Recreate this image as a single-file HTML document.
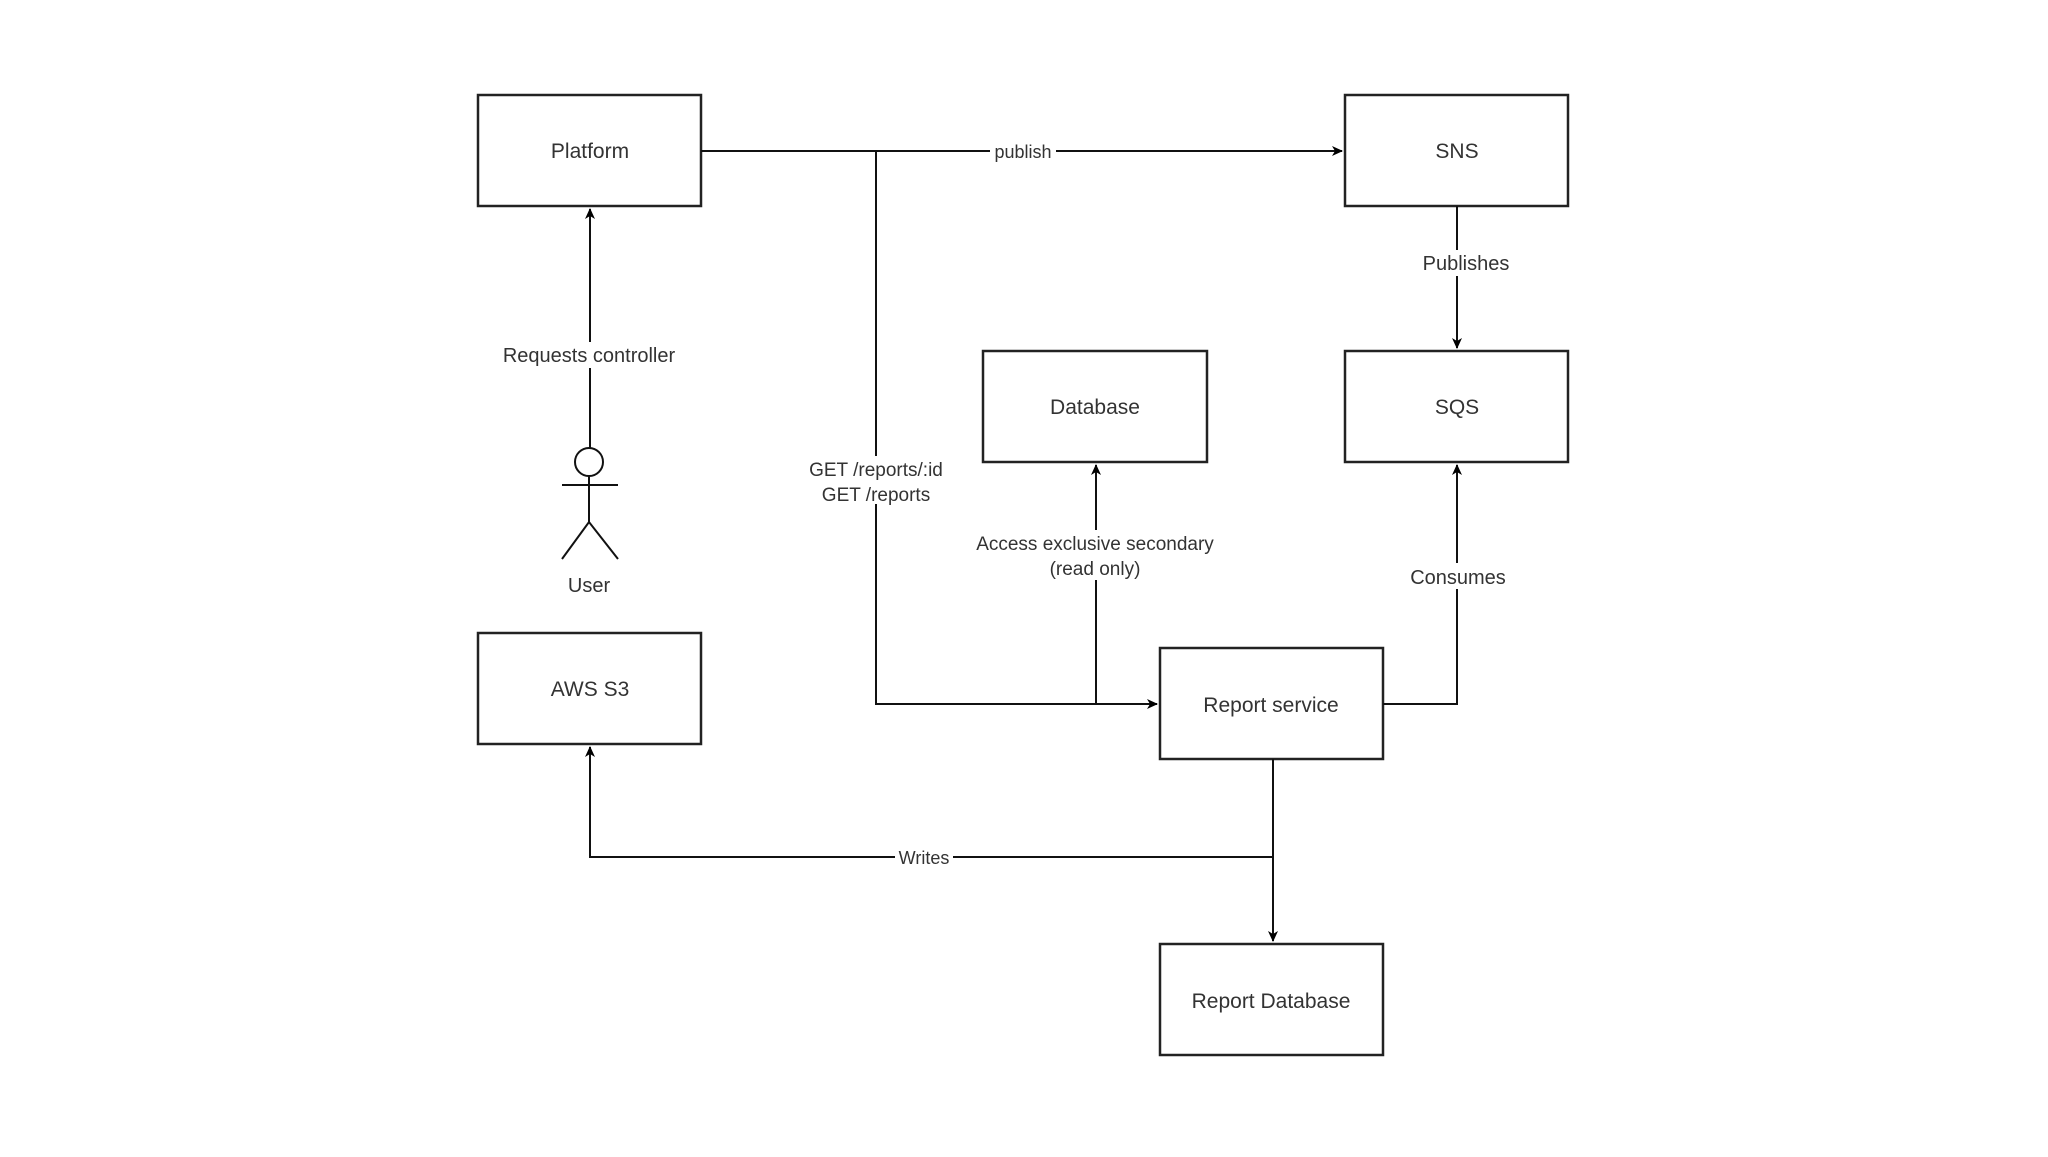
<!DOCTYPE html>
<html><head><style>body{margin:0;background:#fff}</style></head><body>
<svg width="2048" height="1152" xmlns="http://www.w3.org/2000/svg" font-family="Liberation Sans, sans-serif" fill="none">
<defs><marker id="a" markerWidth="12" markerHeight="12" refX="10" refY="6" orient="auto" markerUnits="userSpaceOnUse"><path d="M0,1 L11,6 L0,11 L3,6 Z" fill="#000"/></marker></defs>
<g stroke="#222" stroke-width="2.5" fill="#fff">
<rect x="478" y="95" width="223" height="111"/>
<rect x="1345" y="95" width="223" height="111"/>
<rect x="983" y="351" width="224" height="111"/>
<rect x="1345" y="351" width="223" height="111"/>
<rect x="478" y="633" width="223" height="111"/>
<rect x="1160" y="648" width="223" height="111"/>
<rect x="1160" y="944" width="223" height="111"/>
</g>
<g stroke="#111" stroke-width="2">
<path d="M701,151 H1342" marker-end="url(#a)"/>
<path d="M876,151 V704 H1157" marker-end="url(#a)"/>
<path d="M1096,704 V465" marker-end="url(#a)"/>
<path d="M1383,704 H1457 V465" marker-end="url(#a)"/>
<path d="M1457,206 V348" marker-end="url(#a)"/>
<path d="M590,448 V209" marker-end="url(#a)"/>
<path d="M1273,759 V941" marker-end="url(#a)"/>
<path d="M1273,857 H590 V747" marker-end="url(#a)"/>
<circle cx="589" cy="462" r="14" fill="#fff"/>
<path d="M589,476 V522 M562,485 H618 M562,559 L589,522 L618,559"/>
</g>
<g fill="#333" font-size="21" text-anchor="middle">
<text x="590" y="158">Platform</text>
<text x="1457" y="158">SNS</text>
<text x="1095" y="414">Database</text>
<text x="1457" y="414">SQS</text>
<text x="590" y="696">AWS S3</text>
<text x="1271" y="712">Report service</text>
<text x="1271" y="1008">Report Database</text>
</g>
<g fill="#333" font-size="20" text-anchor="middle">
<rect x="990" y="140" width="66" height="22" fill="#fff"/>
<text x="1023" y="158" font-size="18">publish</text>
<rect x="1415" y="250" width="90" height="26" fill="#fff"/>
<text x="1466" y="270">Publishes</text>
<rect x="492" y="342" width="196" height="26" fill="#fff"/>
<text x="589" y="362">Requests controller</text>
<text x="589" y="592">User</text>
<rect x="800" y="456" width="152" height="48" fill="#fff"/>
<text x="876" y="476" font-size="19">GET /reports/:id</text>
<text x="876" y="501" font-size="19">GET /reports</text>
<rect x="964" y="530" width="262" height="50" fill="#fff"/>
<text x="1095" y="550" font-size="19">Access exclusive secondary</text>
<text x="1095" y="575" font-size="19">(read only)</text>
<rect x="1405" y="563" width="104" height="26" fill="#fff"/>
<text x="1458" y="584">Consumes</text>
<rect x="895" y="847" width="58" height="22" fill="#fff"/>
<text x="924" y="864" font-size="18">Writes</text>
</g>
</svg>
</body></html>
